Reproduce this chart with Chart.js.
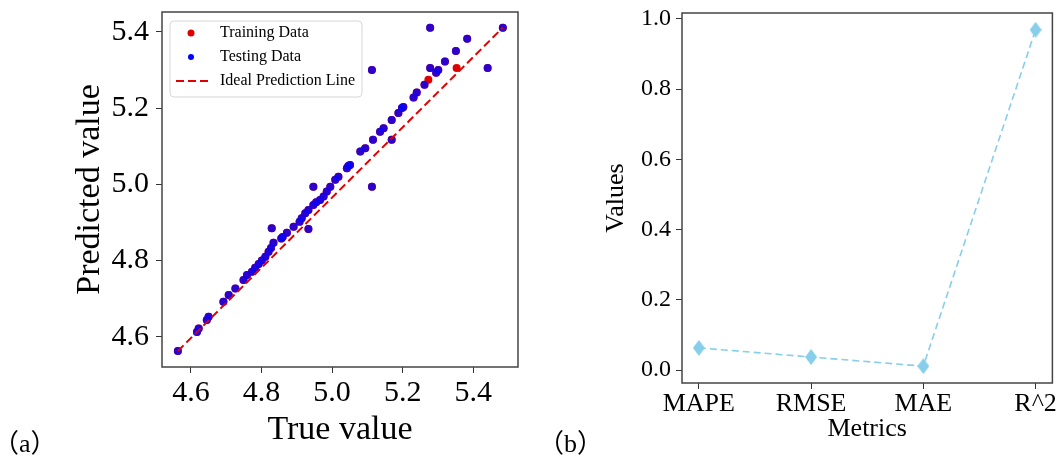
<!DOCTYPE html>
<html>
<head>
<meta charset="utf-8">
<script src="https://cdn.jsdelivr.net/npm/chart.js@4.4.1/dist/chart.umd.min.js"></script>
<style>
  body{margin:0;background:#fff;width:1061px;height:459px;overflow:hidden;position:relative;font-family:"Liberation Serif","DejaVu Serif",serif;}
  .wrap{position:absolute;top:0;height:459px;}
  #wrapA{left:0;width:540px;}
  #wrapB{left:540px;width:521px;}
  .tag{position:absolute;top:422px;font-size:26px;color:#000;font-family:"Liberation Serif","Noto Sans CJK SC",serif;}
</style>
</head>
<body>
<div class="wrap" id="wrapA"><canvas id="chartA" width="540" height="459"></canvas></div>
<div class="wrap" id="wrapB"><canvas id="chartB" width="521" height="459"></canvas></div>
<div class="tag" style="left:-7px">（a）</div>
<div class="tag" style="left:538px">（b）</div>
<script>
// ==================== Data ====================
// (a) true vs predicted
const trueVals=[4.563,4.617,4.622,4.645,4.650,4.692,4.707,4.726,4.749,4.759,4.773,4.782,4.792,4.801,4.811,4.820,
  4.827,4.834,4.829,4.856,4.860,4.872,4.891,4.908,4.914,4.924,4.933,4.933,4.947,4.947,4.955,4.966,4.976,4.985,4.995,
  5.009,5.018,5.042,5.046,5.051,5.080,5.094,5.113,5.116,5.113,5.136,5.146,5.169,5.169,5.188,5.198,5.202,5.231,5.240,
  5.262,5.278,5.278,5.295,5.301,5.320,5.351,5.383,5.441,5.484];
const predVals=[4.563,4.613,4.622,4.644,4.653,4.692,4.710,4.727,4.749,4.762,4.771,4.781,4.791,4.800,4.810,4.823,
  4.833,4.847,4.885,4.858,4.862,4.873,4.889,4.902,4.911,4.924,4.933,4.883,4.946,4.994,4.953,4.959,4.968,4.981,4.994,
  5.012,5.020,5.042,5.048,5.051,5.086,5.095,4.994,5.117,5.300,5.138,5.147,5.169,5.117,5.187,5.200,5.203,5.228,5.241,
  5.261,5.305,5.411,5.293,5.300,5.322,5.350,5.382,5.305,5.411];
// training-only points that show up red
const trainOnlyTrue=[5.353,5.273];
const trainOnlyPred=[5.305,5.274];
const idealTrue=[4.563,5.484];
const idealPred=[4.563,5.411];
const tickValsA=[4.6,4.8,5.0,5.2,5.4];

// (b) metrics
const metrics=['MAPE','RMSE','MAE','R^2'];
const metricVals=[0.063,0.037,0.011,0.969];
const tickValsB=[0,0.2,0.4,0.6,0.8,1.0];

// ==================== Helpers ====================
const SERIF='"Liberation Serif","DejaVu Serif",serif';
const toPts=(xs,ys)=>xs.map((x,i)=>({x:x,y:ys[i]}));
// no extra label padding around the plot box
const noPad=s=>{s.paddingTop=0;s.paddingBottom=0;s.paddingLeft=0;s.paddingRight=0;};

const framePlugin={
  id:'frame',
  afterDatasetsDraw(chart){
    const {ctx,chartArea:a}=chart;
    ctx.save();
    ctx.strokeStyle='#444';ctx.lineWidth=1.5;
    ctx.strokeRect(a.left,a.top,a.right-a.left,a.bottom-a.top);
    ctx.restore();
  }
};

// legend inside the plot like matplotlib
const legendA={
  id:'legendA',
  afterDraw(chart){
    const ctx=chart.ctx;
    ctx.save();
    const x=170,y=21,w=192,h=76,r=4;
    ctx.beginPath();
    ctx.moveTo(x+r,y);ctx.arcTo(x+w,y,x+w,y+h,r);ctx.arcTo(x+w,y+h,x,y+h,r);
    ctx.arcTo(x,y+h,x,y,r);ctx.arcTo(x,y,x+w,y,r);ctx.closePath();
    ctx.fillStyle='rgba(255,255,255,0.85)';ctx.fill();
    ctx.strokeStyle='#d6d6d6';ctx.lineWidth=1;ctx.stroke();

    ctx.fillStyle='#e00000';
    ctx.beginPath();ctx.arc(191,33,3.5,0,Math.PI*2);ctx.fill();
    ctx.fillStyle='#0000ff';
    ctx.beginPath();ctx.arc(191,57,3,0,Math.PI*2);ctx.fill();
    ctx.strokeStyle='#e00000';ctx.lineWidth=2;ctx.setLineDash([8,4]);
    ctx.beginPath();ctx.moveTo(176,81);ctx.lineTo(208,81);ctx.stroke();
    ctx.setLineDash([]);

    ctx.fillStyle='#000';ctx.font='16px '+SERIF;ctx.textBaseline='middle';
    ctx.fillText('Training Data',220,33);
    ctx.fillText('Testing Data',220,57);
    ctx.fillText('Ideal Prediction Line',220,81);
    ctx.restore();
  }
};

// thin diamond marker
function thinDiamond(w,h,color){
  const c=document.createElement('canvas');
  c.width=w;c.height=h;
  const g=c.getContext('2d');
  g.fillStyle=color;
  g.beginPath();g.moveTo(w/2,0);g.lineTo(w,h/2);g.lineTo(w/2,h);g.lineTo(0,h/2);g.closePath();g.fill();
  return c;
}

Chart.defaults.font.family=SERIF;
Chart.defaults.color='#000';

// ==================== (a) scatter ====================
new Chart(document.getElementById('chartA'),{
  type:'scatter',
  data:{
    datasets:[
      {label:'Training Data',data:toPts(trueVals.concat(trainOnlyTrue),predVals.concat(trainOnlyPred)),
        backgroundColor:'#e00000',borderWidth:0,pointRadius:4,order:3},
      {label:'Testing Data',data:toPts(trueVals,predVals),
        backgroundColor:'rgba(0,0,255,0.8)',borderWidth:0,pointRadius:4,order:2},
      {label:'Ideal Prediction Line',type:'line',data:toPts(idealTrue,idealPred),
        borderColor:'#e00000',borderWidth:2,borderDash:[8,4],pointRadius:0,fill:false,order:1}
    ]
  },
  options:{
    responsive:false,animation:false,devicePixelRatio:1,
    layout:{padding:{top:12,right:22,left:0,bottom:0}},
    plugins:{legend:{display:false},tooltip:{enabled:false}},
    scales:{
      x:{
        type:'linear',min:4.518,max:5.527,
        afterBuildTicks:s=>{s.ticks=tickValsA.map(v=>({value:v}));},
        afterFit:s=>{s.height=92;noPad(s);},
        ticks:{callback:v=>v.toFixed(1),font:{size:30},color:'#000',padding:2,maxRotation:0,autoSkip:false},
        grid:{drawOnChartArea:false,drawTicks:true,tickLength:6,color:'#333'},
        border:{display:false},
        title:{display:true,text:'True value',font:{size:34},color:'#000',padding:{top:0,bottom:9}}
      },
      y:{
        type:'linear',min:4.521,max:5.452,
        afterBuildTicks:s=>{s.ticks=tickValsA.map(v=>({value:v}));},
        afterFit:s=>{s.width=162;noPad(s);},
        ticks:{callback:v=>v.toFixed(1),font:{size:30},color:'#000',padding:7,autoSkip:false},
        grid:{drawOnChartArea:false,drawTicks:true,tickLength:6,color:'#333'},
        border:{display:false},
        title:{display:true,text:'Predicted value',font:{size:34},color:'#000',padding:{top:70,bottom:0}}
      }
    }
  },
  plugins:[framePlugin,legendA]
});

// ==================== (b) metrics line ====================
new Chart(document.getElementById('chartB'),{
  type:'scatter',
  data:{
    datasets:[{
      label:'Metrics',type:'line',
      data:metricVals.map((v,i)=>({x:i,y:v})),
      borderColor:'#87ceeb',borderWidth:1.6,borderDash:[7,4],fill:false,
      pointStyle:thinDiamond(12,16,'#87ceeb'),pointRadius:7
    }]
  },
  options:{
    responsive:false,animation:false,devicePixelRatio:1,
    layout:{padding:{top:13,right:8,left:0,bottom:0}},
    plugins:{legend:{display:false},tooltip:{enabled:false}},
    scales:{
      x:{
        type:'linear',min:-0.15,max:3.15,
        afterBuildTicks:s=>{s.ticks=metrics.map((m,i)=>({value:i}));},
        afterFit:s=>{s.height=76;noPad(s);},
        ticks:{callback:v=>metrics[v],font:{size:26},color:'#000',padding:0,maxRotation:0,autoSkip:false},
        grid:{drawOnChartArea:false,drawTicks:true,tickLength:6,color:'#333'},
        border:{display:false},
        title:{display:true,text:'Metrics',font:{size:26},color:'#000',padding:{top:0,bottom:14}}
      },
      y:{
        type:'linear',min:-0.037,max:1.017,
        afterBuildTicks:s=>{s.ticks=tickValsB.map(v=>({value:v}));},
        afterFit:s=>{s.width=142;noPad(s);},
        ticks:{callback:v=>v.toFixed(1),font:{size:24},color:'#000',padding:5,autoSkip:false},
        grid:{drawOnChartArea:false,drawTicks:true,tickLength:6,color:'#333'},
        border:{display:false},
        title:{display:true,text:'Values',font:{size:26},color:'#000',padding:{top:61,bottom:0}}
      }
    }
  },
  plugins:[framePlugin]
});
</script>
</body>
</html>
